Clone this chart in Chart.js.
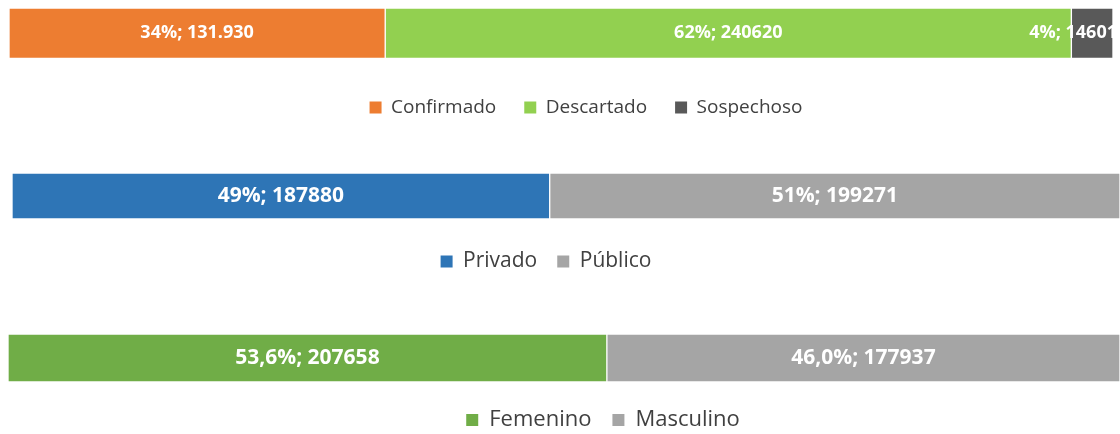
<!DOCTYPE html>
<html lang="es">
<head>
<meta charset="UTF-8" />
<title>Muestras procesadas</title>
<script src="https://cdn.jsdelivr.net/npm/chart.js"></script>
<style>
  body {
    margin: 0;
    width: 1120px;
    height: 434px;
    overflow: hidden;
    background: #ffffff;
    position: relative;
    font-family: "Open Sans", sans-serif;
  }
  canvas { position: absolute; }
</style>
</head>
<body>
<canvas id="resultadoChart" width="1154" height="127" style="left:9px;top:0px"></canvas>
<canvas id="sectorChart" width="1148" height="122" style="left:-28px;top:160px"></canvas>
<canvas id="sexoChart" width="1190" height="121" style="left:8px;top:320px"></canvas>

<script>
  // Resultado de la muestra
  const resultadoNames = ['Confirmado', 'Descartado', 'Sospechoso'];
  const resultadoValues = [131930, 240620, 14601];
  const resultadoLabels = ['34%; 131.930', '62%; 240620', '4%; 14601'];

  // Sector
  const sectorNames = ['Privado', 'Público'];
  const sectorValues = [187880, 199271];
  const sectorLabels = ['49%; 187880', '51%; 199271'];

  // Sexo
  const sexoNames = ['Femenino', 'Masculino'];
  const sexoValues = [207658, 177937];
  const sexoLabels = ['53,6%; 207658', '46,0%; 177937'];

  Chart.defaults.font.family = '"Open Sans", sans-serif';

  // white value labels in the middle of each segment
  const segmentLabels = {
    id: 'segmentLabels',
    afterDatasetsDraw(chart, args, opts) {
      const ctx = chart.ctx;
      ctx.save();
      ctx.font = 'bold ' + opts.size + 'px "Open Sans"';
      ctx.fillStyle = '#ffffff';
      ctx.textBaseline = 'middle';
      chart.data.datasets.forEach((ds, i) => {
        const bar = chart.getDatasetMeta(i).data[0];
        const text = opts.texts[i];
        const left = Math.min(bar.x, bar.base);
        const right = Math.max(bar.x, bar.base);
        const w = ctx.measureText(text).width;
        if (w > right - left) {
          // too narrow: push the label back over the previous segment
          ctx.textAlign = 'right';
          ctx.fillText(text, right + 4, bar.y);
        } else {
          ctx.textAlign = 'center';
          ctx.fillText(text, (left + right) / 2, bar.y);
        }
      });
      ctx.restore();
    }
  };

  function makeBar(id, names, values, texts, colors, box) {
    const total = values.reduce((a, b) => a + b, 0);
    const datasets = names.map((name, i) => ({
      label: name,
      data: [values[i]],
      backgroundColor: colors[i],
      borderColor: 'rgba(255,255,255,0.7)',
      borderWidth: 1,
      borderSkipped: false,
      barPercentage: 1,
      categoryPercentage: 1
    }));

    return new Chart(document.getElementById(id), {
      type: 'bar',
      data: { labels: [''], datasets: datasets },
      plugins: [segmentLabels],
      options: {
        indexAxis: 'y',
        responsive: false,
        animation: false,
        layout: { padding: { top: box.top, bottom: 0, left: 0, right: 0 } },
        scales: {
          x: {
            stacked: true,
            min: 0,
            max: total,
            ticks: { display: false },
            grid: { display: false },
            border: { display: false },
            afterFit: s => { s.height = box.gap; }
          },
          y: {
            stacked: true,
            ticks: { display: false },
            grid: { display: false },
            border: { display: false },
            afterFit: s => { s.width = box.left; }
          },
          yRight: {
            type: 'linear',
            position: 'right',
            ticks: { display: false },
            grid: { display: false },
            border: { display: false },
            afterFit: s => { s.width = box.right; }
          }
        },
        plugins: {
          tooltip: { enabled: false },
          segmentLabels: { texts: texts, size: box.labelSize },
          legend: {
            position: 'bottom',
            labels: {
              color: '#404040',
              font: { size: box.legendSize },
              boxWidth: 12,
              boxHeight: 12,
              padding: box.legendPad,
              generateLabels: c => Chart.defaults.plugins.legend.labels.generateLabels(c)
                .map(l => ({ ...l, lineWidth: 0 }))
            }
          }
        }
      }
    });
  }

  makeBar('resultadoChart', resultadoNames, resultadoValues, resultadoLabels,
    ['#ED7D31', '#92D050', '#595959'],
    { top: 8, gap: 11.5, left: 0, right: 50, labelSize: 18, legendSize: 19, legendPad: 28 });

  makeBar('sectorChart', sectorNames, sectorValues, sectorLabels,
    ['#2E75B6', '#A5A5A5'],
    { top: 13, gap: 12, left: 40, right: 0, labelSize: 21, legendSize: 21, legendPad: 20 });

  makeBar('sexoChart', sexoNames, sexoValues, sexoLabels,
    ['#70AD47', '#A5A5A5'],
    { top: 14, gap: 6, left: 0, right: 78, labelSize: 21, legendSize: 22, legendPad: 21 });
</script>
</body>
</html>
